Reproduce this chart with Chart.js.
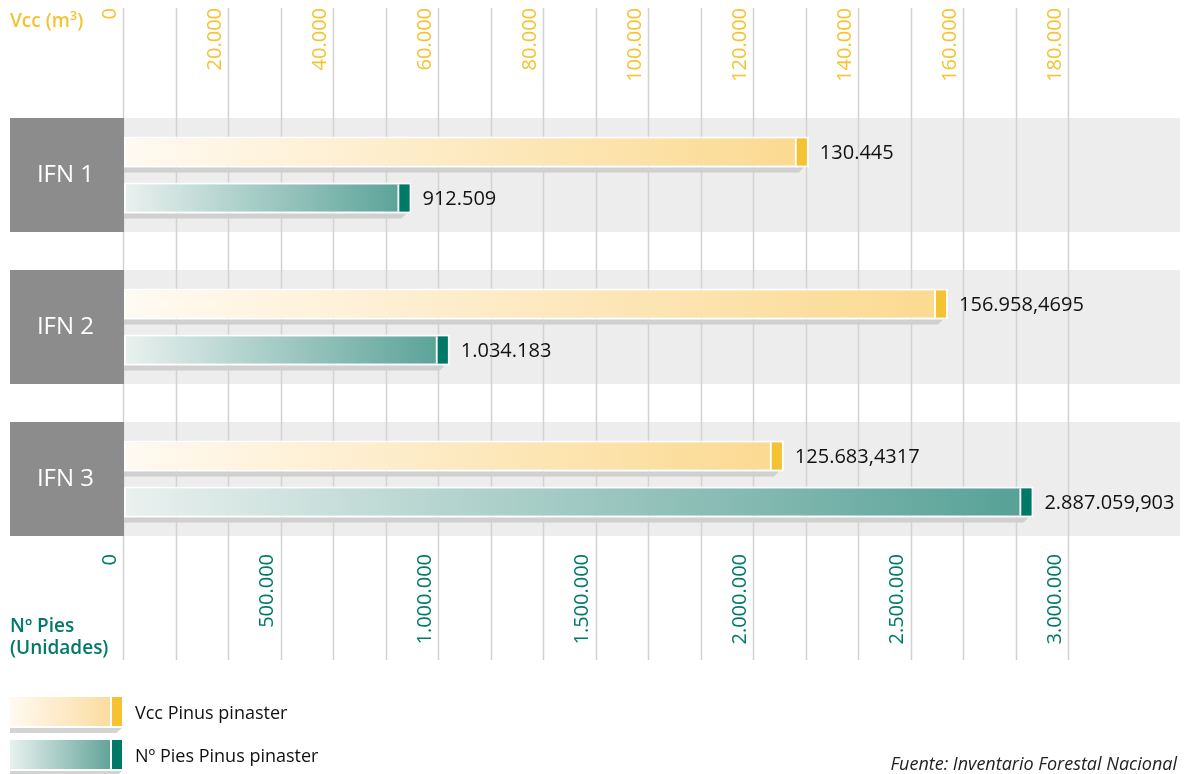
<!DOCTYPE html>
<html>
<head>
<meta charset="utf-8">
<script src="https://cdn.jsdelivr.net/npm/chart.js@4/dist/chart.umd.min.js"></script>
<style>
  body { margin: 0; background: #fff; font-family: "Open Sans", sans-serif; }
  #wrap { position: relative; width: 1189px; height: 774px; }
  canvas { position: absolute; left: 0; top: 0; }
  .title { position: absolute; left: 10px; font-size: 19px; line-height: 22px; font-weight: 600; }
  .sw { position: absolute; left: 10px; width: 112px; height: 29px; }
  .sw .fill { position: absolute; left: 0; top: 0; width: 100px; height: 29px; }
  .sw .cap { position: absolute; left: 102px; top: 0; width: 10px; height: 29px; }
  .sw .shadow { position: absolute; left: 0; top: 31px; width: 112px; height: 5px; background: #d3d3d3;
                clip-path: polygon(0 0, 100% 0, 95% 100%, 0 100%); }
  .lgtext { position: absolute; left: 135px; font-size: 18px; color: #111; font-weight: 500; }
  #source { position: absolute; right: 12px; top: 751px; font-size: 18px; font-style: italic; color: #222; }
</style>
</head>
<body>
<div id="wrap">
  <canvas id="chart" width="1189" height="774"></canvas>
  <div class="title" style="top:4px;color:#f5c332">Vcc (m<sup style="font-size:13px">3</sup>)</div>
  <div class="title" style="top:614px;color:#007a68">Nº Pies<br>(Unidades)</div>

  <div class="sw" style="top:697px">
    <div class="fill" style="background:linear-gradient(to right,#fffaf2,#fbdca0)"></div>
    <div class="cap" style="background:#f5c332"></div>
    <div class="shadow"></div>
  </div>
  <div class="lgtext" style="top:700px">Vcc Pinus pinaster</div>

  <div class="sw" style="top:740px">
    <div class="fill" style="background:linear-gradient(to right,#e9f1ef,#63a59a)"></div>
    <div class="cap" style="background:#007a68"></div>
    <div class="shadow"></div>
  </div>
  <div class="lgtext" style="top:743px">Nº Pies Pinus pinaster</div>

  <div id="source">Fuente: Inventario Forestal Nacional</div>
</div>

<script>
"use strict";

// data
const categories = ["IFN 1", "IFN 2", "IFN 3"];
const vccValues = [130445, 156958.4695, 125683.4317];
const piesValues = [912509, 1034183, 2887059.903];

// axes
const vccMax = 180000;
const vccGridStep = 10000;
const vccLabelStep = 20000;
const piesMax = 3000000;
const piesLabelStep = 500000;

const yellow = "#f5c332";
const teal = "#007a68";

// 130445 -> 130.445 , 156958.4695 -> 156.958,4695
function fmt(v) {
  const parts = String(v).split(".");
  const intPart = parts[0].replace(/\B(?=(\d{3})+(?!\d))/g, ".");
  return parts[1] ? intPart + "," + parts[1] : intPart;
}

function barFill(from, to) {
  return function (c) {
    const chart = c.chart;
    const area = chart.chartArea;
    if (!area || c.raw === undefined) return to;
    const scale = chart.scales[c.dataset.xAxisID];
    const end = scale.getPixelForValue(c.raw);
    const g = chart.ctx.createLinearGradient(area.left, 0, end, 0);
    g.addColorStop(0, from);
    g.addColorStop(1, to);
    return g;
  };
}

const capColors = [yellow, teal];

// gray bands, dark label boxes and the vertical grid
const backdrop = {
  id: "backdrop",
  beforeDraw(chart) {
    const ctx = chart.ctx;
    const y = chart.scales.y;
    const top = chart.scales.xTop;
    const band = (y.getPixelForValue(1) - y.getPixelForValue(0)) * 0.75;
    ctx.save();
    categories.forEach((c, i) => {
      const cy = y.getPixelForValue(i);
      ctx.fillStyle = "#ededed";
      ctx.fillRect(10, cy - band / 2, 1170, band);
    });
    ctx.strokeStyle = "#d2d2d2";
    ctx.lineWidth = 1.5;
    top.ticks.forEach(t => {
      const x = Math.round(top.getPixelForValue(t.value)) - 0.5;
      ctx.beginPath();
      ctx.moveTo(x, 8);
      ctx.lineTo(x, 660);
      ctx.stroke();
    });
    categories.forEach((c, i) => {
      const cy = y.getPixelForValue(i);
      ctx.fillStyle = "#8c8c8c";
      ctx.fillRect(10, cy - band / 2, 114, band);
    });
    ctx.restore();
  },
  beforeDatasetsDraw(chart) {
    // shadows under the bars
    const ctx = chart.ctx;
    ctx.save();
    ctx.fillStyle = "#d0d0d0";
    chart.data.datasets.forEach((ds, d) => {
      chart.getDatasetMeta(d).data.forEach(el => {
        const b = el.y + el.height / 2;
        ctx.beginPath();
        ctx.moveTo(el.base, b);
        ctx.lineTo(el.x - 5, b);
        ctx.lineTo(el.x - 10, b + 5);
        ctx.lineTo(el.base, b + 5);
        ctx.closePath();
        ctx.fill();
      });
    });
    ctx.restore();
  },
  afterDatasetsDraw(chart) {
    const ctx = chart.ctx;
    ctx.save();
    // caps and value labels
    chart.data.datasets.forEach((ds, d) => {
      chart.getDatasetMeta(d).data.forEach((el, i) => {
        const t = el.y - el.height / 2 + 2;
        const h = el.height - 4;
        ctx.fillStyle = "#ffffff";
        ctx.fillRect(el.x - 14, t, 2, h);
        ctx.fillStyle = capColors[d];
        ctx.fillRect(el.x - 12, t, 10, h);
        ctx.fillStyle = "#111";
        ctx.font = '500 20px "Open Sans"';
        ctx.textAlign = "left";
        ctx.textBaseline = "middle";
        ctx.fillText(fmt(ds.data[i]), el.x + 11, el.y + 1);
      });
    });
    // top axis labels, hung from the top edge
    const top = chart.scales.xTop;
    ctx.fillStyle = yellow;
    ctx.font = '500 20px "Open Sans"';
    ctx.textAlign = "right";
    ctx.textBaseline = "middle";
    top.ticks.forEach(t => {
      if (t.value % vccLabelStep !== 0) return;
      ctx.save();
      ctx.translate(top.getPixelForValue(t.value) - 14, 8);
      ctx.rotate(-Math.PI / 2);
      ctx.fillText(fmt(t.value), 0, 0);
      ctx.restore();
    });
    ctx.restore();
  }
};

const data = {
  labels: categories,
  datasets: [
    {
      label: "Vcc Pinus pinaster",
      data: vccValues,
      xAxisID: "xTop",
      backgroundColor: barFill("#fffaf2", "#fbd98f"),
      borderColor: "#ffffff",
      borderWidth: 2,
      borderSkipped: false
    },
    {
      label: "Nº Pies Pinus pinaster",
      data: piesValues,
      xAxisID: "xBottom",
      backgroundColor: barFill("#eaf1ef", "#55a095"),
      borderColor: "#ffffff",
      borderWidth: 2,
      borderSkipped: false
    }
  ]
};

const config = {
  type: "bar",
  data: data,
  plugins: [backdrop],
  options: {
    indexAxis: "y",
    responsive: false,
    animation: false,
    categoryPercentage: 0.605,
    barPercentage: 0.67,
    layout: { padding: { left: 10, right: 120, top: 0, bottom: 0 } },
    plugins: { legend: { display: false }, tooltip: { enabled: false } },
    scales: {
      y: {
        grid: { display: false },
        border: { display: false },
        afterFit: s => { s.width = 114; },
        ticks: {
          color: "#ffffff",
          font: { family: "Open Sans", size: 24, weight: "500" },
          crossAlign: "center",
          padding: 22
        }
      },
      xTop: {
        position: "top",
        min: 0,
        max: vccMax,
        grid: { display: false },
        border: { display: false },
        afterFit: s => { s.height = 99; },
        ticks: { display: false, stepSize: vccGridStep, autoSkip: false }
      },
      xBottom: {
        position: "bottom",
        min: 0,
        max: piesMax,
        grid: { display: false },
        border: { display: false },
        afterFit: s => { s.height = 219; },
        ticks: {
          stepSize: piesLabelStep,
          autoSkip: false,
          minRotation: 90,
          maxRotation: 90,
          labelOffset: -14,
          padding: -9,
          color: teal,
          font: { family: "Open Sans", size: 20, weight: "500" },
          callback: v => fmt(v)
        }
      }
    }
  }
};

const chart = new Chart(document.getElementById("chart"), config);
</script>
</body>
</html>
